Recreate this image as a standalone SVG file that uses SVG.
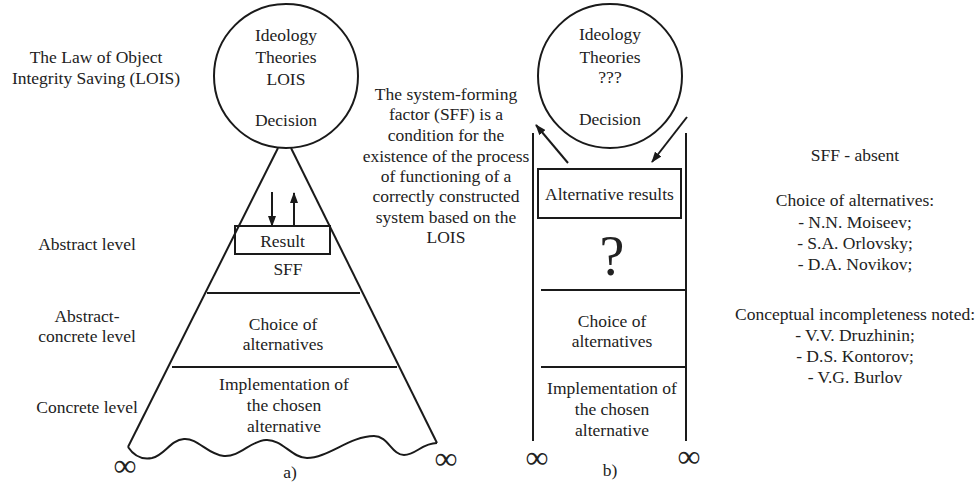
<svg xmlns="http://www.w3.org/2000/svg" width="979" height="482" viewBox="0 0 979 482">
<defs>
<style>
text{font-family:"Liberation Serif","Times New Roman",serif;font-size:17.5px;fill:#222;text-anchor:middle}
.ln{stroke:#1a1a1a;stroke-width:2;fill:none}
.inf{font-size:32px}
.big{font-size:56px}
</style>
<marker id="ah" markerUnits="userSpaceOnUse" markerWidth="11" markerHeight="8" refX="10" refY="4" orient="auto">
<path d="M0,0 L11,4 L0,8 z" fill="#1a1a1a"/>
</marker>
</defs>
<rect width="979" height="482" fill="#fff"/>

<g id="label-lois">
<text x="96" y="63">The Law of Object</text>
<text x="96" y="84">Integrity Saving (LOIS)</text>
</g>
<g id="level-labels">
<text x="87" y="250">Abstract level</text>
<text x="87" y="322">Abstract-</text>
<text x="87" y="342">concrete level</text>
<text x="87" y="413">Concrete level</text>
</g>

<g id="circle-a">
<circle class="ln" cx="286" cy="76" r="72"/>
<text x="286" y="41">Ideology</text>
<text x="286" y="63">Theories</text>
<text x="286" y="85">LOIS</text>
<text x="286" y="126">Decision</text>
</g>

<g id="pyramid-a">
<path class="ln" d="M278,148 L128,447"/>
<path class="ln" d="M291,148 L437,443"/>
<path class="ln" d="M207,293 L360,293"/>
<path class="ln" d="M172,367 L397,367"/>
<path class="ln" d="M128,447 C134,456 142,460 152,458 C165,455 170,440 184,439 C198,438 208,455 224,456 C240,457 250,441 266,440 C282,439 292,458 307,458 C328,458 350,436 374,436 C388,436 392,455 404,455 C416,455 422,443 437,443"/>
<text x="288" y="275">SFF</text>
<text x="283" y="330">Choice of</text>
<text x="283" y="350">alternatives</text>
<text x="284" y="390">Implementation of</text>
<text x="284" y="411">the chosen</text>
<text x="284" y="432">alternative</text>
<text class="inf" x="125" y="476">∞</text>
<text class="inf" x="446" y="469">∞</text>
<text x="290" y="478">a)</text>
</g>

<g id="result-a">
<rect class="ln" x="235" y="226" width="95" height="28"/>
<text x="282.5" y="247">Result</text>
</g>

<g id="sff-text">
<text x="446" y="100">The system-forming</text>
<text x="446" y="120">factor (SFF) is a</text>
<text x="446" y="141">condition for the</text>
<text x="446" y="162">existence of the process</text>
<text x="446" y="182">of functioning of a</text>
<text x="446" y="202">correctly constructed</text>
<text x="446" y="223">system based on the</text>
<text x="446" y="243">LOIS</text>
</g>

<g id="circle-b">
<circle class="ln" cx="610" cy="76" r="72"/>
<text x="610" y="40">Ideology</text>
<text x="610" y="63">Theories</text>
<text x="610" y="83">???</text>
<text x="610" y="125">Decision</text>
</g>

<g id="column-b">
<path class="ln" d="M533,133 L533,441"/>
<path class="ln" d="M686,133 L686,441"/>
<path class="ln" d="M541,290 L686,290"/>
<path class="ln" d="M541,367 L686,367"/>
<text class="big" x="612" y="275">?</text>
<text x="612" y="327">Choice of</text>
<text x="612" y="347">alternatives</text>
<text x="612" y="394">Implementation of</text>
<text x="612" y="415">the chosen</text>
<text x="612" y="436">alternative</text>
<text class="inf" x="537" y="468">∞</text>
<text class="inf" x="689" y="467">∞</text>
<text x="610" y="476">b)</text>
</g>

<g id="alt-results-b">
<rect class="ln" x="538" y="169" width="143" height="49"/>
<text x="609.5" y="200">Alternative results</text>
</g>

<g id="notes-right">
<text x="855" y="161">SFF - absent</text>
<text x="855" y="206">Choice of alternatives:</text>
<text x="855" y="228">- N.N. Moiseev;</text>
<text x="855" y="249">- S.A. Orlovsky;</text>
<text x="855" y="270">- D.A. Novikov;</text>
<text x="855" y="320">Conceptual incompleteness noted:</text>
<text x="855" y="341">- V.V. Druzhinin;</text>
<text x="855" y="362">- D.S. Kontorov;</text>
<text x="855" y="383">- V.G. Burlov</text>
</g>

<g id="connectors">
<path class="ln" d="M272,192 L272,226" marker-end="url(#ah)"/>
<path class="ln" d="M294,226 L294,193" marker-end="url(#ah)"/>
<path class="ln" d="M568,163 L536,125" marker-end="url(#ah)"/>
<path class="ln" d="M687,117 L652,162" marker-end="url(#ah)"/>
</g>
</svg>
